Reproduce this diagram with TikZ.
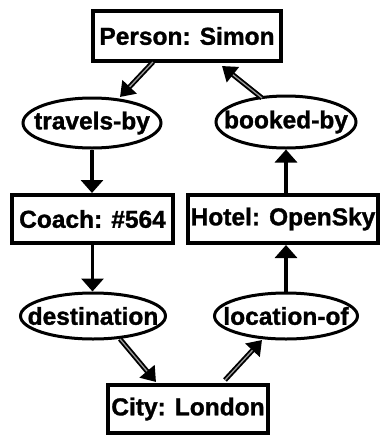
\documentclass[tikz,border=0pt]{standalone}
\usepackage{fontspec}
\setmainfont[FakeBold=1.2]{Liberation Sans}
\usetikzlibrary{shapes.geometric,arrows.meta}
\tikzset{
  conc/.style={draw, line width=4pt, inner sep=0pt, font=\fontsize{24.5}{27}\selectfont\bfseries},
  rel/.style={draw, ellipse, line width=3pt, inner sep=0pt, font=\fontsize{24.5}{27}\selectfont\bfseries},
  arr/.style={line width=3.3pt, -{Triangle[width=22pt,length=13pt]}},
  darr/.style={line width=5pt, -{Triangle[width=19pt,length=14pt]}},
  inner/.style={line width=1.3pt, draw=black!40},
}
\begin{document}
\begin{tikzpicture}[x=1pt,y=-1pt]
\useasboundingbox (0,0) rectangle (383,437);
\node[conc, minimum width=188pt, minimum height=50pt] (person) at (187,36) {Person: Simon};
\node[rel, minimum width=138pt, minimum height=50pt] (travels) at (92,123) {\makebox[0pt]{travels-by}};
\node[rel, minimum width=140pt, minimum height=52pt] (booked) at (286,122) {\makebox[0pt]{booked-by}};
\node[conc, minimum width=161pt, minimum height=48pt] (coach) at (92.5,219) {Coach: \#564};
\node[conc, minimum width=190pt, minimum height=48pt] (hotel) at (283,219) {Hotel: OpenSky};
\node[rel, minimum width=145pt, minimum height=46pt] (dest) at (93,316) {\makebox[0pt]{destination}};
\node[rel, minimum width=143pt, minimum height=46pt] (loc) at (286,316) {\makebox[0pt]{location-of}};
\node[conc, minimum width=160pt, minimum height=48pt] (city) at (188,409) {City: London};

\coordinate (p1) at (153,62);
\coordinate (t1) at (120,97);
\coordinate (b1) at (262,98);
\coordinate (p2) at (222,66);
\coordinate (d1) at (120,339);
\coordinate (c1) at (156,382);
\coordinate (c2) at (225,380);
\coordinate (l1) at (262,340);

\draw[darr] (p1) -- (t1);
\draw[inner, shorten >=14pt] (p1) -- (t1);
\draw[darr] (b1) -- (p2);
\draw[inner, shorten >=14pt] (b1) -- (p2);
\draw[darr] (d1) -- (c1);
\draw[inner, shorten >=14pt] (d1) -- (c1);
\draw[darr] (c2) -- (l1);
\draw[inner, shorten >=14pt] (c2) -- (l1);

\draw[arr] (travels) -- (coach.north -| travels);
\draw[arr] (coach) -- (dest.north -| coach);
\draw[arr] (loc.north -| loc) -- (hotel.south -| loc);
\draw[arr] (hotel.north -| booked) -- (booked);
\end{tikzpicture}
\end{document}
